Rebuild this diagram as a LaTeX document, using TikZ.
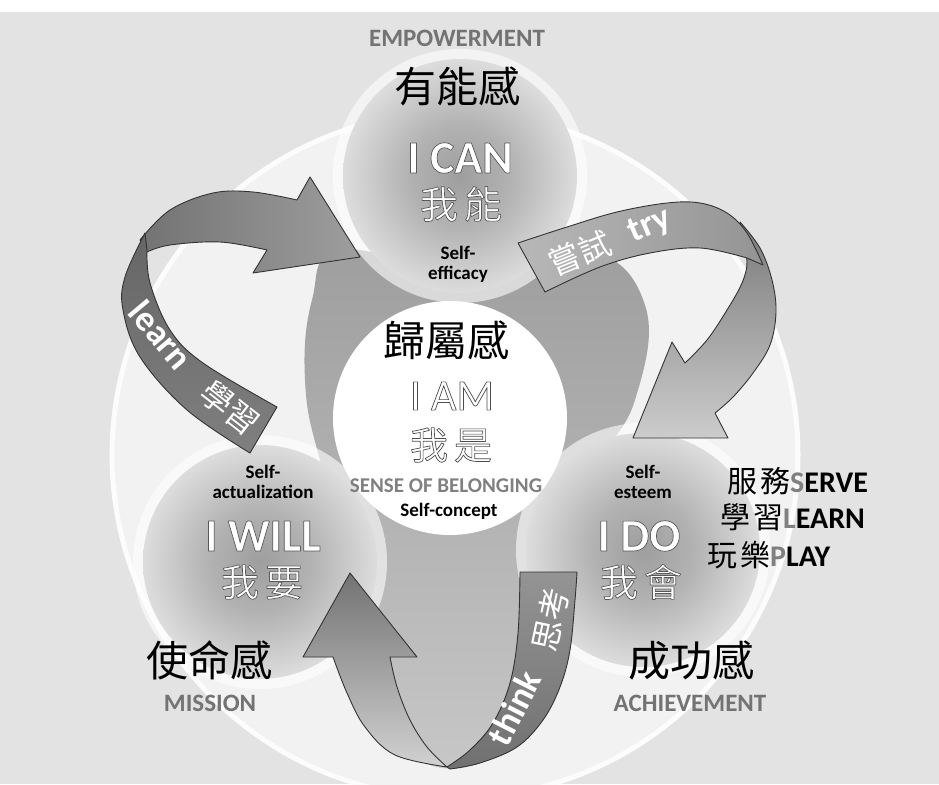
\documentclass[tikz,border=0pt]{standalone}
\usepackage{fontspec}
\setmainfont{Carlito}
\newfontfamily\cjk{Noto Sans CJK TC}
\usetikzlibrary{calc}

\definecolor{bgc}{gray}{0.89}
\definecolor{ringc}{gray}{0.95}
\colorlet{sphA}{black!38}
\colorlet{sphB}{black!30}
\colorlet{sphC}{black!11}
\pgfdeclareradialshading{sphere}{\pgfpoint{0bp}{0bp}}{%
  color(0bp)=(sphA); color(11bp)=(sphB); color(27bp)=(sphC);
  color(39bp)=(white); color(50bp)=(white)}

% glyphs filled in the current colour and stroked in grey
\newcommand\strokedtext[2]{%
  \special{pdf:literal direct #1 G 0.7 w 1 j 2 Tr}#2\special{pdf:literal direct 0 Tr}}

\begin{document}
\begin{tikzpicture}[x=1pt, y=-1pt, every node/.style={inner sep=0pt},
  cjkhead/.style={font=\cjk\fontsize{42}{46}\selectfont, text=black},
  capgray/.style={font=\bfseries\fontsize{25}{28}\selectfont, text=black!55},
  smalllab/.style={font=\bfseries\fontsize{19}{20}\selectfont, align=center, text=black},
  listlab/.style={anchor=west, font=\bfseries\fontsize{30}{32}\selectfont, text=black},
  bigword/.style={text=white, font=\bfseries\fontsize{46}{50}\selectfont},
  thinword/.style={text=white, font=\fontsize{44}{48}\selectfont},
  bigcjk/.style={text=white, font=\cjk\fontsize{38}{42}\selectfont},
  ribline/.style={draw=black!80, line width=0.9pt, line join=round},
  ribtxt/.style={text=white, font=\bfseries\fontsize{36}{40}\selectfont},
  ribcjk/.style={text=white, font=\cjk\fontsize{32}{36}\selectfont}]

\useasboundingbox (0,0) rectangle (939,784);
\fill[white] (0,0) rectangle (939,784);
\fill[bgc] (0,12) rectangle (939,784);

% large pale disc
\fill[ringc] (455,455) circle (345);
\draw[white, line width=5pt, opacity=0.8] (455,455) circle (343);

% grey backdrop between the discs
\shade[top color=black!38, bottom color=black!22]
  plot[smooth cycle, tension=0.7] coordinates {
  (340,250) (460,270) (585,250) (645,305) (635,400) (595,470) (565,560)
  (545,700) (460,768) (385,720) (360,580) (320,460) (305,380) (312,300)};

% three shaded spheres
\fill[white, opacity=0.6] (460,176) circle (127);
\fill[white, opacity=0.6] (260,562) circle (127);
\fill[white, opacity=0.6] (643,550) circle (127);
\shade[shading=sphere] (460,176) circle (117);
\shade[shading=sphere] (260,562) circle (117);
\shade[shading=sphere] (643,550) circle (117);

% central disc
\fill[white] (450,418) circle (117);

% ---- learn ribbon ----
\shade[ribline, left color=black!55, middle color=black!18, right color=black!38]
  plot[smooth, tension=0.6] coordinates {(140,240) (170,210) (213,193) (253,192) (297,200)}
  -- (310,177) -- (360,257) -- (253,273) -- (267,250)
  -- plot[smooth, tension=0.6] coordinates {(267,250) (220,242) (170,245) (147,252)}
  -- cycle;
\shade[ribline, top color=black!60, bottom color=black!50]
  plot[smooth, tension=0.6] coordinates {(250,453) (187,410) (140,357) (123,310) (125,277) (145,233)}
  -- (147,250)
  -- plot[smooth, tension=0.6] coordinates {(147,250) (150,283) (170,330) (203,363) (277,407)}
  -- cycle;
\node[ribtxt, rotate=-50] (learnw) at (161,335) {learn};
\node[ribcjk, rotate=-38] (learnc) at (230,408) {學習};

% ---- try ribbon ----
\shade[ribline, top color=black!52, bottom color=black!20]
  plot[smooth, tension=0.6] coordinates {(740,222) (760,248) (772,280) (776,312) (770,345) (753,373) (733,397) (715,413)}
  -- (728,438) -- (633,438) -- (672,342) -- (685,363)
  -- plot[smooth, tension=0.6] coordinates {(685,363) (707,340) (727,310) (742,283) (747,262) (742,240)}
  -- cycle;
\shade[ribline, left color=black!28, right color=black!42]
  plot[smooth, tension=0.6] coordinates {(518,243) (567,227) (617,212) (667,203) (700,203) (727,213) (747,233) (763,265)}
  -- (747,258)
  -- plot[smooth, tension=0.6] coordinates {(747,258) (700,248) (650,253) (600,267) (545,292)}
  -- cycle;
\node[ribcjk, rotate=22] (tryc) at (580,253) {嘗試};
\node[ribtxt, rotate=23] (tryw) at (650,226) {try};

% ---- think ribbon ----
\shade[ribline, top color=black!55, bottom color=black!18]
  (350,573) -- (417,657) -- (390,657)
  -- plot[smooth, tension=0.6] coordinates {(390,657) (397,687) (410,720) (427,747) (447,767)}
  -- plot[smooth, tension=0.6] coordinates {(447,767) (395,755) (365,727) (347,693) (333,657)}
  -- (303,657) -- cycle;
\shade[ribline, top color=black!42, bottom color=black!56]
  plot[smooth, tension=0.6] coordinates {(520,572) (518,633) (510,683) (493,723) (470,750) (447,767)}
  -- plot[smooth, tension=0.6] coordinates {(450,769) (480,763) (517,747) (543,720) (560,687) (570,650) (575,600) (577,572)}
  -- cycle;
\node[ribtxt, rotate=63] (thinkw) at (514,708) {think};
\node[ribcjk, rotate=78] (thinkc) at (550,620) {思考};

% ---- headings ----
\node[capgray] (emp) at (457,38) {EMPOWERMENT};
\node[cjkhead] (ynk) at (457,86) {有能感};
\node[cjkhead] (gsg) at (446,340) {歸屬感};
\node[cjkhead] (smg) at (209,660) {使命感};
\node[capgray] (mis) at (210,703) {MISSION};
\node[cjkhead] (cgg) at (691,660) {成功感};
\node[capgray] (ach) at (690,703) {ACHIEVEMENT};

% ---- disc texts ----
\node[bigword] (ican) at (460,158) {\strokedtext{0.35}{I CAN}};
\node[bigcjk] (wn) at (461,204) {\strokedtext{0.35}{我\hspace{6pt}能}};
\node[smalllab] (eff) at (458,264) {Self-\\efficacy};

\node[thinword] (iam) at (452,396) {\strokedtext{0.3}{I AM}};
\node[bigcjk] (ws) at (451,445) {\strokedtext{0.3}{我\hspace{6pt}是}};
\node[font=\bfseries\fontsize{21}{24}\selectfont, text=black!50] (sob) at (446,486) {SENSE OF BELONGING};
\node[smalllab] (scon) at (449,511) {Self-concept};

\node[smalllab] (sact) at (263,482) {Self-\\actualization};
\node[bigword] (iwill) at (263,536) {\strokedtext{0.35}{I WILL}};
\node[bigcjk] (wy) at (262,582) {\strokedtext{0.35}{我\hspace{6pt}要}};

\node[smalllab] (sest) at (643,482) {Self-\\esteem};
\node[bigword] (ido) at (639,536) {\strokedtext{0.35}{I DO}};
\node[bigcjk] (wh) at (641,582) {\strokedtext{0.35}{我\hspace{6pt}會}};

% ---- activity list ----
\node[listlab] (serve) at (727,481) {{\cjk\mdseries 服\hspace{3pt}務}\textcolor{black!50}{S}ERVE};
\node[listlab] (learn) at (720,517) {{\cjk\mdseries 學\hspace{3pt}習}\textcolor{black!50}{L}EARN};
\node[listlab] (play) at (707,555) {{\cjk\mdseries 玩\hspace{3pt}樂}\textcolor{black!50}{P}LAY};

\end{tikzpicture}
\end{document}
